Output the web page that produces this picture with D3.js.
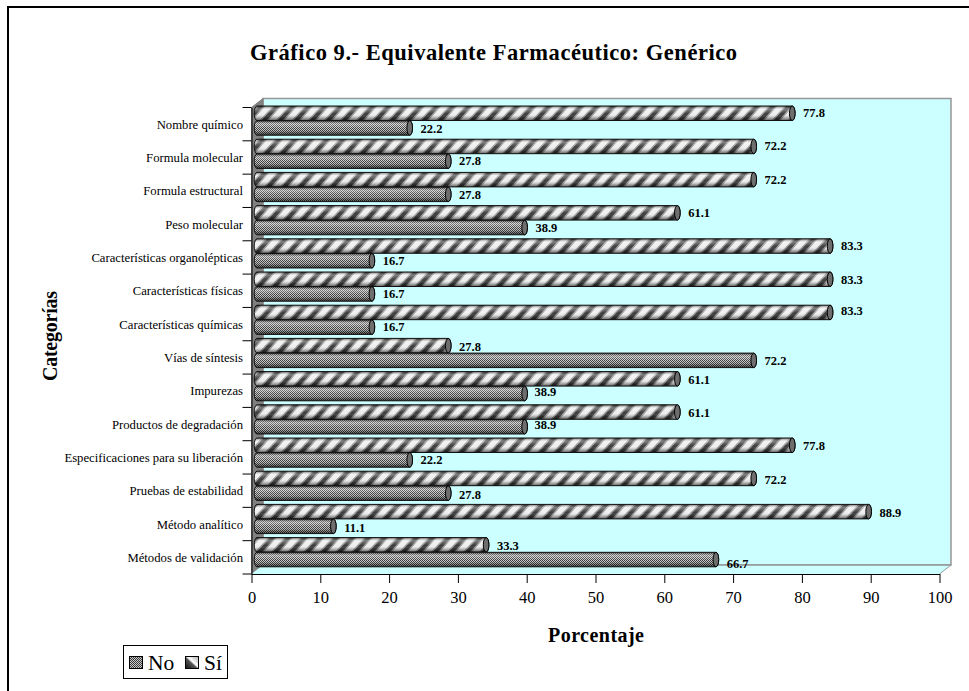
<!DOCTYPE html>
<html><head><meta charset="utf-8">
<script src="https://cdnjs.cloudflare.com/ajax/libs/d3/7.8.5/d3.min.js"></script>
<style>html,body{margin:0;padding:0;background:#fff;overflow:hidden}svg{display:block}text{font-family:"Liberation Serif",serif;fill:#000}</style>
</head><body><div id="c"></div>
<script>
const categories=["Nombre químico","Formula molecular","Formula estructural","Peso molecular","Características organolépticas","Características físicas","Características químicas","Vías de síntesis","Impurezas","Productos de degradación","Especificaciones para su liberación","Pruebas de estabilidad","Método analítico","Métodos de validación"];
const siValues=[77.8,72.2,72.2,61.1,83.3,83.3,83.3,27.8,61.1,61.1,77.8,72.2,88.9,33.3];
const noValues=[22.2,27.8,27.8,38.9,16.7,16.7,16.7,72.2,38.9,38.9,22.2,27.8,11.1,66.7];
const xTicks=[0,10,20,30,40,50,60,70,80,90,100];
const seriesNames=["Sí","No"];
const W=969,H=691;
const svg=d3.select("#c").append("svg").attr("width",W).attr("height",H);
const defs=svg.append("defs");
const g0=defs.append("linearGradient").attr("id","shade").attr("x1",0).attr("x2",0).attr("y1",0).attr("y2",1);
[[0,"#000",.5],[.22,"#fff",.35],[.55,"#fff",0],[.8,"#000",.25],[1,"#000",.6]].forEach(([o,c,a])=>g0.append("stop").attr("offset",o).attr("stop-color",c).attr("stop-opacity",a));
const st=defs.append("pattern").attr("id","stripes").attr("patternUnits","userSpaceOnUse").attr("width",16).attr("height",16).attr("patternTransform","skewX(-42)");
st.append("rect").attr("width",16).attr("height",16).attr("fill","#eeeeee");
st.append("rect").attr("x",0).attr("width",9).attr("height",16).attr("fill","#9c9c9c");
st.append("rect").attr("x",2).attr("width",5).attr("height",16).attr("fill","#3c3c3c");
defs.append("filter").attr("id","soft").append("feGaussianBlur").attr("stdDeviation",0.6);
const dp=defs.append("pattern").attr("id","dots").attr("patternUnits","userSpaceOnUse").attr("width",2).attr("height",2);
dp.append("rect").attr("width",2).attr("height",2).attr("fill","#c8c8c8");
dp.append("rect").attr("width",1).attr("height",1).attr("fill","#3a3a3a");
dp.append("rect").attr("x",1).attr("y",1).attr("width",1).attr("height",1).attr("fill","#3a3a3a");
const lg=defs.append("linearGradient").attr("id","lgS").attr("x1",0).attr("y1",1).attr("x2",1).attr("y2",0);
[[0,"#111"],[.45,"#555"],[.55,"#fff"],[1,"#aaa"]].forEach(([o,c])=>lg.append("stop").attr("offset",o).attr("stop-color",c));

svg.append("rect").attr("x",8).attr("y",7).attr("width",970).attr("height",700).attr("fill","#fff").attr("stroke","#000").attr("stroke-width",2);

const x=d3.scaleLinear().domain([0,100]).range([251.5,939.5]);
const y=d3.scaleBand().domain(categories).range([107.5,574]);
const yBar=d3.scaleBand().domain(categories).range([106,106+33.2*14]);
const dx=11.5,dy=-9;
const x0=x(0),x1=x(100),yT=y.range()[0],yB=y.range()[1];
svg.append("polygon").attr("points",[[x0+dx,yT+dy],[x1+dx,yT+dy],[x1+dx,yB+dy],[x0+dx,yB+dy]].join(" ")).attr("fill","#ccffff").attr("stroke","#969696").attr("stroke-width",1.5);
svg.append("polygon").attr("points",[[x0,yT],[x0+dx,yT+dy],[x0+dx,yB+dy],[x0,yB]].join(" ")).attr("fill","#808080").attr("stroke","#808080");
svg.append("polygon").attr("points",[[x0,yB],[x0+dx,yB+dy],[x1+dx,yB+dy],[x1,yB]].join(" ")).attr("fill","#ccffff").attr("stroke","none");
svg.append("line").attr("x1",x0+dx).attr("y1",yB+dy).attr("x2",x1+dx).attr("y2",yB+dy).attr("stroke","#969696").attr("stroke-width",1.5);
svg.append("line").attr("x1",x1).attr("y1",yB).attr("x2",x1+dx).attr("y2",yB+dy).attr("stroke","#969696");

const barOff=5.5,rx=2.8,bh=14.5;
function cyl(g,v,top,fill,soft){
 const a=x(0)+barOff,b=x(v)+barOff,r=bh/2,m=top+r;
 const body=`M${a},${top}L${b},${top}A${rx},${r} 0 0 1 ${b},${top+bh}L${a},${top+bh}A${rx},${r} 0 0 1 ${a},${top}Z`;
 const p=g.append("path").attr("d",body).attr("fill",fill);
 if(soft)p.attr("filter","url(#soft)");
 g.append("path").attr("d",body).attr("fill","url(#shade)").attr("stroke","#111").attr("stroke-width",1);
 g.append("ellipse").attr("cx",b).attr("cy",m).attr("rx",rx).attr("ry",r).attr("fill","#6e6e6e").attr("stroke","#000").attr("stroke-width",1);
}
const barSets=[{key:"si",vals:siValues,fill:"url(#stripes)",off:0,soft:true},{key:"no",vals:noValues,fill:"url(#dots)",off:14.7,soft:false}];
barSets.forEach(s=>{
 svg.append("g").selectAll("g").data(categories).join("g").each(function(c,i){
  cyl(d3.select(this),s.vals[i],yBar(c)+s.off,s.fill,s.soft);
 });
});
// small label shifts where the source moved a label off its bar's default spot
const labelShift={"no-0":[0,1],"no-5":[0,-1],"no-6":[0,-1],"no-8":[-1,-3],"no-9":[-1,-3],"no-10":[0,-1],"no-13":[0,3],"si-6":[0,-2],"si-7":[0,1]};
barSets.forEach(s=>{
 svg.append("g").selectAll("text").data(categories).join("text")
  .attr("x",(c,i)=>x(s.vals[i])+barOff+rx+8+(labelShift[s.key+"-"+i]||[0,0])[0])
  .attr("y",(c,i)=>y(c)+(s.key==="si"?-1.5:13.5)+7+4+(labelShift[s.key+"-"+i]||[0,0])[1])
  .attr("font-size",12.5).attr("font-weight","bold").text((c,i)=>s.vals[i].toFixed(1));
});

const ax=svg.append("g").attr("transform",`translate(0,${yB})`).call(d3.axisBottom(x).tickValues(xTicks).tickSize(9).tickSizeOuter(0).tickPadding(8).tickFormat(d3.format("d")));
ax.selectAll("text").attr("font-size",16.5).attr("font-family",'"Liberation Serif",serif');
ax.selectAll("line,path").attr("stroke","#000");
const ay=svg.append("g").attr("transform",`translate(${x0},0)`).call(d3.axisLeft(y).tickSize(0).tickPadding(8.5));
ay.selectAll("text").attr("font-size",12.7).attr("font-family",'"Liberation Serif",serif').attr("dy","0.32em").attr("transform","translate(0,0.5)");
ay.select("path").attr("stroke","#000");
svg.append("g").selectAll("line").data(d3.range(15)).join("line").attr("x1",x0-9).attr("x2",x0).attr("y1",i=>yT+i*y.step()).attr("y2",i=>yT+i*y.step()).attr("stroke","#000");

svg.append("text").attr("x",250).attr("y",60).attr("font-size",22.5).attr("font-weight","bold").attr("textLength",487).attr("lengthAdjust","spacing").text("Gráfico 9.- Equivalente Farmacéutico: Genérico");
svg.append("text").attr("x",548).attr("y",642).attr("font-size",20).attr("font-weight","bold").attr("textLength",96).attr("lengthAdjust","spacing").text("Porcentaje");
svg.append("text").attr("transform","translate(57,381) rotate(-90)").attr("font-size",20).attr("font-weight","bold").attr("textLength",90).attr("lengthAdjust","spacing").text("Categorías");

const leg=svg.append("g");
leg.append("rect").attr("x",123.5).attr("y",645.5).attr("width",104).attr("height",33).attr("fill","#fff").attr("stroke","#000");
[{n:seriesNames[1],f:"url(#dots)",sx:129.5,tx:148},{n:seriesNames[0],f:"url(#lgS)",sx:185.5,tx:204}].forEach(d=>{
 leg.append("rect").attr("x",d.sx).attr("y",656.5).attr("width",13).attr("height",12).attr("fill",d.f).attr("stroke","#000");
 leg.append("text").attr("x",d.tx).attr("y",670).attr("font-size",21.5).text(d.n);
});
</script></body></html>
